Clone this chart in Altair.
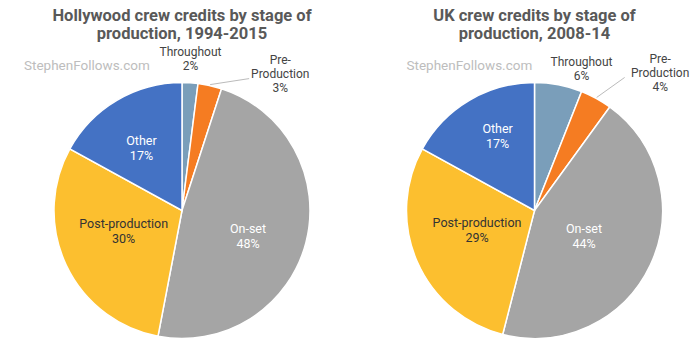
import math
import altair as alt
import pandas as pd

# ---------------- data ----------------
stages = ["Throughout", "Pre-Production", "On-set", "Post-production", "Other"]
label_lines = ["Throughout", "Pre-\nProduction", "On-set", "Post-production", "Other"]
hollywood_pct = [2, 3, 48, 30, 17]
uk_pct = [6, 4, 44, 29, 17]
hollywood_title = ["Hollywood crew credits by stage of", "production, 1994-2015"]
uk_title = ["UK crew credits by stage of", "production, 2008-14"]
watermark = "StephenFollows.com"

# ---------------- style / layout ----------------
colors = ["#7A9EBA", "#F57C22", "#A5A5A5", "#FCBF2F", "#4472C4"]
label_colors = ["#444444", "#444444", "#FFFFFF", "#333333", "#FFFFFF"]
inside = [False, False, True, True, True]
H = 338
R = 128
CY = 202.5
FONT = "Roboto"

# label placement: (angle offset from slice middle in degrees, radius in px) of the label block centre
hollywood_label_place = [(-0.4, 152), (23.2, 168), (7.2, 71), (5.4, 62), (-2.6, 74)]
uk_label_place = [(7.6, 149), (13.7, 186), (2.7, 56), (3.9, 61), (4.2, 83)]
# leader line for "Pre-Production": offset of end point from the slice edge (px right, px up)
hollywood_leader = (39, 6)
uk_leader = (28, 20)


def panel(values, title, width, cx, place, leader, wm_x):
    n = len(values)
    total = sum(values)
    starts = [sum(values[:i]) for i in range(n)]
    mids = [(starts[i] + values[i] / 2) / total * 360 for i in range(n)]

    df = pd.DataFrame({
        "stage": stages,
        "pct": values,
        "order": list(range(n)),
    })

    texts = [f"{label_lines[i]}\n{values[i]}%" for i in range(n)]
    lab = pd.DataFrame({
        "text": texts,
        "nlines": [t.count("\n") + 1 for t in texts],
        "inside": inside,
        "ta": [math.radians(mids[i] + place[i][0]) for i in range(n)],
        "lr": [place[i][1] for i in range(n)],
        "col": label_colors,
    })

    a = math.radians(mids[1])
    x0 = cx + (R + 1) * math.sin(a)
    y0 = CY - (R + 1) * math.cos(a)
    lead = pd.DataFrame({
        "x": [x0], "y": [y0],
        "x2": [x0 + leader[0]], "y2": [y0 - leader[1]],
    })

    arcs = alt.Chart(df).mark_arc(radius=R, stroke="white", strokeWidth=1.5).encode(
        theta=alt.Theta("pct:Q", stack=True),
        color=alt.Color("stage:N", scale=alt.Scale(domain=stages, range=colors), legend=None),
        order=alt.Order("order:Q"),
        x=alt.value(cx),
        y=alt.value(CY),
    )

    base_lab = alt.Chart(lab).encode(
        text="text:N",
        theta=alt.Theta("ta:Q", scale=None, stack=None),
        radius=alt.Radius("lr:Q", scale=None),
        color=alt.Color("col:N", scale=None),
        x=alt.value(cx),
        y=alt.value(CY),
    )
    lab_out2 = base_lab.transform_filter("!datum.inside && datum.nlines == 2").mark_text(
        font=FONT, fontSize=12, lineBreak="\n", lineHeight=14, align="center",
        baseline="middle", dy=-7)
    lab_out3 = base_lab.transform_filter("!datum.inside && datum.nlines == 3").mark_text(
        font=FONT, fontSize=12, lineBreak="\n", lineHeight=14, align="center",
        baseline="middle", dy=-14)
    lab_in = base_lab.transform_filter("datum.inside").mark_text(
        font=FONT, fontSize=12.5, lineBreak="\n", lineHeight=15, align="center",
        baseline="middle", dy=-7.5)

    leader_rule = alt.Chart(lead).mark_rule(color="#BBBBBB", strokeWidth=1).encode(
        x=alt.X("x:Q", scale=None),
        y=alt.Y("y:Q", scale=None),
        x2="x2:Q",
        y2="y2:Q",
    )

    wm = alt.Chart(pd.DataFrame({"t": [watermark]})).mark_text(
        font=FONT, fontSize=13.5, color="#BDBDBD", align="left", baseline="middle",
    ).encode(text="t:N", x=alt.value(wm_x), y=alt.value(58))

    ttl = alt.Chart(pd.DataFrame({"t": ["\n".join(title)]})).mark_text(
        font=FONT, fontSize=16.5, fontWeight="bold", color="#595959", align="center",
        baseline="alphabetic", lineBreak="\n", lineHeight=17.5,
    ).encode(text="t:N", x=alt.value(cx), y=alt.value(13))

    return alt.layer(arcs, leader_rule, lab_out2, lab_out3, lab_in, wm, ttl).properties(
        width=width, height=H,
    )


left = panel(hollywood_pct, hollywood_title, 340, 174, hollywood_label_place, hollywood_leader, 16)
right = panel(uk_pct, uk_title, 344, 186.5, uk_label_place, uk_leader, 58.5)

chart = alt.hconcat(left, right, spacing=0, bounds="flush").properties(
    padding=0
).configure_view(stroke=None)

chart.save("out.html", embed_options={"renderer": "svg", "actions": False})
